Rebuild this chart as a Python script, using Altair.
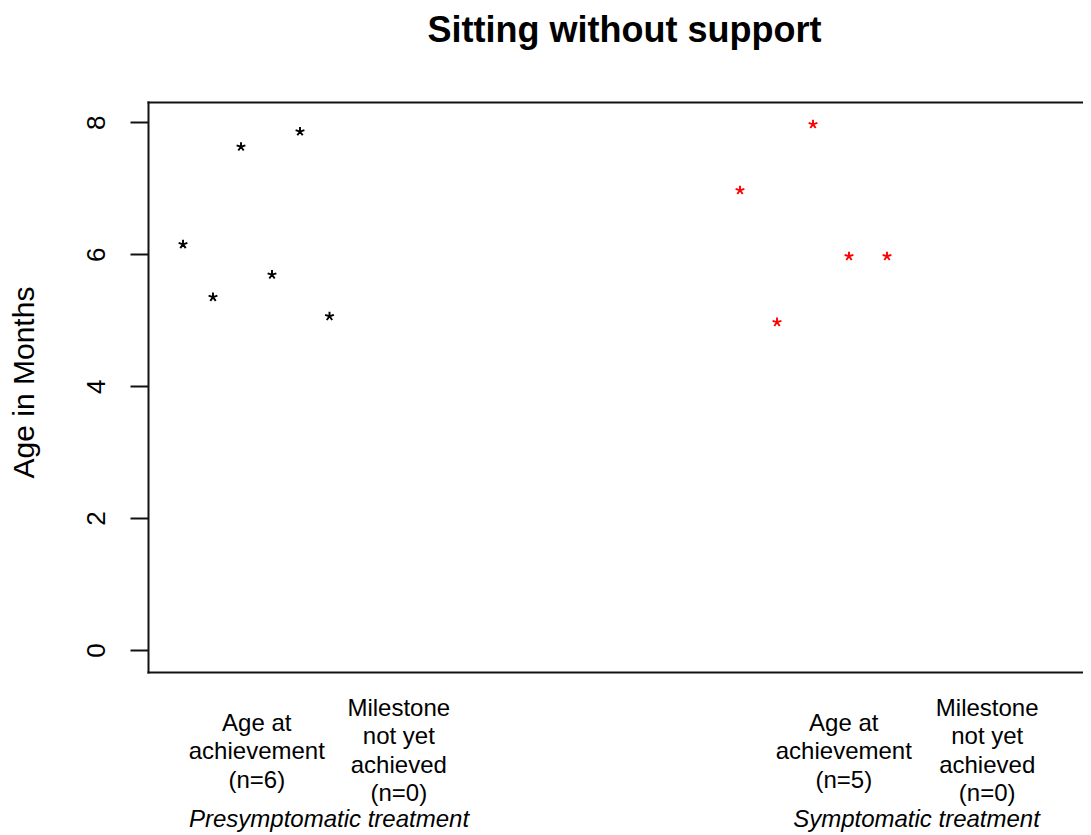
import json
import altair as alt
import pandas as pd

FONT = "Liberation Sans"

title_text = "Sitting without support"
y_title = "Age in Months"

# Presymptomatic treatment (black asterisks)
pre_x = [3.5, 6.5, 9.3, 12.4, 15.2, 18.15]
pre_y = [6.18, 5.38, 7.66, 5.72, 7.89, 5.09]
# Symptomatic treatment (red asterisks)
sym_x = [59.2, 62.9, 66.5, 70.1, 73.9]
sym_y = [7.0, 5.0, 8.0, 6.0, 6.0]

groups = ["Presymptomatic treatment", "Symptomatic treatment"]
group_colors = ["#000000", "#FF0000"]
group_label_x = [18.1, 76.85]

cat_positions = [10.83, 25.03, 69.53, 83.87]
cat_labels = [
    ["Age at", "achievement", "(n=6)"],
    ["Milestone", "not yet", "achieved", "(n=0)"],
    ["Age at", "achievement", "(n=5)"],
    ["Milestone", "not yet", "achieved", "(n=0)"],
]
y_ticks = [0, 2, 4, 6, 8]

pts = pd.DataFrame(
    {
        "x": pre_x + sym_x,
        "y": pre_y + sym_y,
        "group": [groups[0]] * len(pre_x) + [groups[1]] * len(sym_x),
    }
)
glab = pd.DataFrame({"x": group_label_x, "label": groups})

# label expression mapping axis tick value -> multi-line label
expr = "''"
for pos, lines in reversed(list(zip(cat_positions, cat_labels))):
    expr = f"abs(datum.value - {pos}) < 0.01 ? {json.dumps(lines)} : ({expr})"
three_line_test = " || ".join(
    f"abs(datum.value - {pos}) < 0.01"
    for pos, lines in zip(cat_positions, cat_labels)
    if len(lines) == 3
)

# five-armed asterisk like R's pch="*"
ASTERISK = (
    "M0,0L0,-1M0,0L0.951,-0.309M0,0L0.588,0.809"
    "M0,0L-0.588,0.809M0,0L-0.951,-0.309"
)

xscale = alt.Scale(domain=[0, 93.5], nice=False, zero=False)
yscale = alt.Scale(domain=[-0.333, 8.308], nice=False, zero=False)

points = alt.Chart(pts).mark_point(
    shape=ASTERISK, filled=False, size=85, strokeWidth=1.9, opacity=1,
    yOffset=2
).encode(
    x=alt.X(
        "x:Q",
        scale=xscale,
        axis=alt.Axis(
            values=cat_positions,
            labelExpr=expr,
            ticks=False,
            tickSize=0,
            labelPadding={"condition": {"test": three_line_test, "value": 51}, "value": 36},
            labelFontSize=24,
            labelFont=FONT,
            labelColor="black",
            labelLineHeight=28.5,
            labelBaseline="middle",
            labelAlign="center",
            labelAngle=0,
            labelOverlap=False,
            labelFlush=False,
            labelBound=False,
            domain=True,
            domainColor="#111111",
            domainWidth=2,
            domainCap="square",
            grid=False,
            title=None,
        ),
    ),
    y=alt.Y(
        "y:Q",
        scale=yscale,
        axis=alt.Axis(
            values=y_ticks,
            tickSize=18,
            tickWidth=2,
            tickColor="#111111",
            labelAngle=270,
            labelAlign="center",
            labelBaseline="alphabetic",
            labelPadding=26,
            labelFontSize=26,
            labelFont=FONT,
            labelColor="black",
            labelOverlap=False,
            labelFlush=False,
            domain=True,
            domainColor="#111111",
            domainWidth=2,
            domainCap="square",
            grid=False,
            title=y_title,
            titleFontSize=30,
            titleFont=FONT,
            titleFontWeight="normal",
            titleColor="black",
            titleAngle=270,
            titleAlign="center",
            titleBaseline="alphabetic",
            titleX=-115,
            titleY=280,
        ),
    ),
    color=alt.Color(
        "group:N", scale=alt.Scale(domain=groups, range=group_colors), legend=None
    ),
)

group_labels = alt.Chart(glab).mark_text(
    fontSize=24, font=FONT, fontStyle="italic", baseline="alphabetic",
    align="center", color="black"
).encode(
    x=alt.X(
        "x:Q",
        scale=xscale,
        axis=alt.Axis(
            orient="top",
            labels=False,
            ticks=False,
            domain=True,
            domainColor="#111111",
            domainWidth=2,
            domainCap="square",
            grid=False,
            title=None,
        ),
    ),
    y=alt.value(724.7),
    text="label:N",
)

chart = (
    alt.layer(points, group_labels)
    .resolve_axis(x="independent")
    .properties(
        width=935,
        height=570,
        autosize=alt.AutoSizeParams(type="none"),
        padding={"left": 140, "top": 94, "right": 0, "bottom": 160},
        background="white",
        title=alt.Title(
            title_text,
            fontSize=36,
            font=FONT,
            fontWeight="bold",
            color="black",
            anchor="middle",
            baseline="alphabetic",
            offset=24,
            dx=9,
        ),
    )
    .configure_view(stroke=None)
)

chart.save("out.html", embed_options={"renderer": "svg", "actions": False})
